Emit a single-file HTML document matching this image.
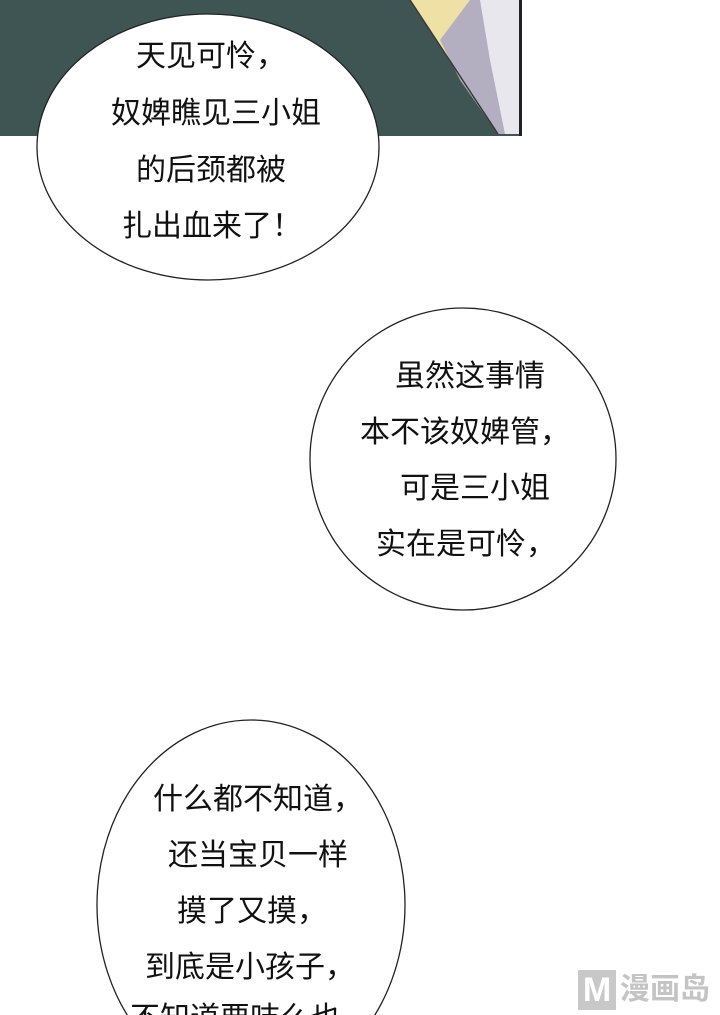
<!DOCTYPE html>
<html><head><meta charset="utf-8"><style>
html,body{margin:0;width:720px;height:1015px;overflow:hidden;}
body{background:#fff;position:relative;font-family:"Liberation Sans","Noto Sans CJK SC",sans-serif;}
.t{position:absolute;font-size:30px;color:#111;white-space:nowrap;line-height:1;}
</style></head><body>
<svg width="720" height="1015" style="position:absolute;left:0;top:0">
<rect x="0" y="0" width="522" height="136" fill="#3f5553"/>
<polygon points="410,0 520,0 520,134 498,134" fill="#efe0a6"/>
<polygon points="440,40 470,0 520,0 520,134 498,134 460,80" fill="#b3afc0"/>
<polygon points="480,0 520,0 520,134 505,134 490,60" fill="#e9e7ee"/>
<line x1="410" y1="0" x2="498" y2="134" stroke="#3a3a3a" stroke-width="1.5"/>
<rect x="519" y="0" width="3" height="136" fill="#222"/>
<ellipse cx="208" cy="147" rx="171" ry="133" fill="#fff" stroke="#222" stroke-width="1.3"/>
<ellipse cx="463" cy="459" rx="153" ry="151" fill="#fff" stroke="#222" stroke-width="1.3"/>
<ellipse cx="251" cy="905" rx="154" ry="185" fill="#fff" stroke="#222" stroke-width="1.3"/>
</svg>
<div class="t" style="left:136px;top:42px">天见可怜，</div>
<div class="t" style="left:111px;top:99px">奴婢瞧见三小姐</div>
<div class="t" style="left:136px;top:156px">的后颈都被</div>
<div class="t" style="left:122px;top:212px">扎出血来了！</div>
<div class="t" style="left:395px;top:362px">虽然这事情</div>
<div class="t" style="left:360px;top:418px">本不该奴婢管，</div>
<div class="t" style="left:400px;top:474px">可是三小姐</div>
<div class="t" style="left:376px;top:530px">实在是可怜，</div>
<div class="t" style="left:153px;top:785px">什么都不知道，</div>
<div class="t" style="left:168px;top:841px">还当宝贝一样</div>
<div class="t" style="left:177px;top:897px">摸了又摸，</div>
<div class="t" style="left:145px;top:953px">到底是小孩子，</div>
<div class="t" style="left:130px;top:1004px">不知道要吱么也</div>
<div style="position:absolute;left:578px;top:970px;width:38px;height:40px;background:#c8c8c8;color:#fff;font-size:34px;line-height:40px;text-align:center;font-weight:bold">M</div>
<div style="position:absolute;left:620px;top:972px;font-size:30px;color:#c4c4c4;font-weight:bold;line-height:36px">漫画岛</div>
</body></html>
